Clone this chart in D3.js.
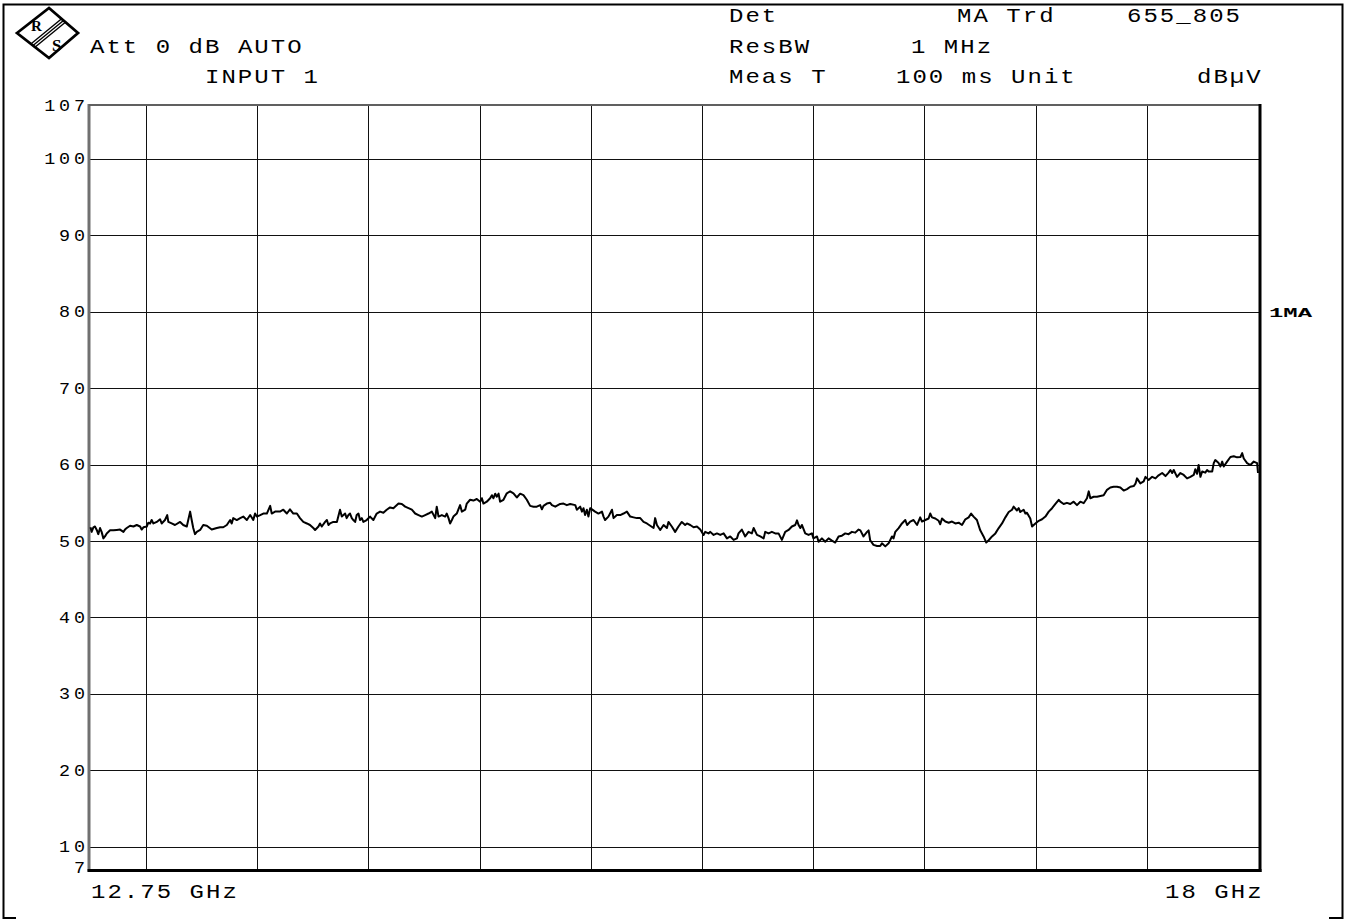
<!DOCTYPE html>
<html>
<head>
<meta charset="utf-8">
<script src="https://cdn.jsdelivr.net/npm/d3@7/dist/d3.min.js"></script>
<style>
  html, body { margin: 0; padding: 0; background: #fff; }
  svg { display: block; }
  .hdr { font-family: "Liberation Mono", "DejaVu Sans Mono", monospace; font-size: 20px; letter-spacing: 1.7px; fill: #000; }
  .ytick text { font-family: "Liberation Mono", "DejaVu Sans Mono", monospace; font-size: 16px; letter-spacing: 3.4px; fill: #000; }
</style>
</head>
<body>
<svg id="chart" width="1351" height="919"></svg>
<script>
// Sweep settings
const startMHz = 12750;
const stopMHz = 18000;
const refTop = 107;
const refBottom = 7;

// Grid divisions
const gridFreqs = [13000, 13500, 14000, 14500, 15000, 15500, 16000, 16500, 17000, 17500];
const gridLevels = [10, 20, 30, 40, 50, 60, 70, 80, 90, 100];
const yTickLabels = [107, 100, 90, 80, 70, 60, 50, 40, 30, 20, 10, 7];

// Trace 1 (MA) — frequency in MHz, level in dBµV
const freqMHz = [
  12750,12755,12763,12770,12778,12785,12793,12800,12808,12815,12823,12838,12853,12868,12883,12898,12905,12913,12928,12943,
  12958,12973,12980,12988,13003,13010,13018,13025,13033,13048,13063,13070,13085,13095,13100,13115,13130,13153,13167,13183,
  13198,13205,13212,13220,13228,13243,13257,13273,13295,13318,13333,13347,13363,13378,13385,13392,13408,13423,13437,13453,
  13468,13482,13490,13498,13513,13527,13543,13558,13565,13580,13602,13617,13633,13647,13662,13678,13692,13707,13723,13737,
  13752,13760,13775,13782,13790,13805,13813,13820,13827,13842,13858,13872,13880,13895,13902,13910,13917,13925,13932,13940,
  13947,13955,13962,13970,13977,13992,14007,14022,14037,14052,14067,14082,14097,14112,14135,14150,14165,14180,14195,14210,
  14225,14240,14255,14270,14285,14300,14307,14315,14330,14345,14352,14360,14367,14375,14382,14397,14412,14420,14435,14442,
  14457,14472,14487,
  14502,14510,14517,14532,14547,14555,14562,14570,14577,14585,14592,14607,14622,14637,14652,14667,14682,14697,14712,14727,
  14742,14757,14772,14780,14787,14802,14817,14825,14840,14862,14877,14892,14907,14930,14937,14952,14960,14967,14974,14982,
  14989,14997,15005,15019,15034,15050,15057,15064,15079,15095,15102,15117,15132,15147,15162,15177,15192,15207,15222,15237,
  15252,15267,15282,15289,15297,15312,15327,15342,15349,15364,15379,15394,15409,15424,15432,15447,15462,15477,15492,15507,
  15514,15529,15537,15552,15567,15582,15597,15612,15627,15642,15657,15664,15679,15694,15709,15724,15732,15747,15762,15777,
  15784,15799,15814,15829,15844,15859,15874,15889,15904,15919,15927,15934,15942,15949,15964,15979,15994,16001,16017,16024,
  16039,16054,16069,16084,16099,16114,16129,16144,16159,16174,16189,16204,
  16212,16226,16242,16249,16256,16271,16287,16301,16309,16324,16339,16354,16361,16369,16384,16399,16414,16422,16436,16451,
  16467,16481,16489,16504,16519,16526,16534,16549,16564,16571,16579,16594,16609,16624,16639,16654,16669,16684,16699,16710,
  16721,16736,16751,16766,16778,16789,16804,16819,16834,16849,16864,16879,16894,16901,16916,16924,16931,16946,16954,16961,
  16976,16984,16999,17014,17029,17044,17059,17074,17089,17104,17111,17126,17141,17156,17171,17186,17201,17216,17231,17239,
  17246,17261,17276,17291,17306,17321,17336,17351,17366,17381,17396,17411,17426,17441,17449,17456,17471,17486,17494,17508,
  17524,17539,17553,17569,17584,17598,17606,17614,17621,17636,17651,17666,17681,17696,17711,17718,17726,17733,17741,17749,
  17763,17771,17778,17794,17801,17808,17823,17831,17839,17846,17861,17876,17891,17906,17921,17929,17936,17951,17966,17981,
  17996,18000
];
const levelDb = [
  51.8,51.2,51.8,51.9,51.45,50.9,51.7,51.2,50.35,50.6,51.0,51.4,51.4,51.45,51.5,51.2,51.5,51.7,52.0,51.9,
  52.1,51.9,51.5,51.8,51.9,52.4,52.3,52.75,52.3,52.5,52.85,52.3,52.75,53.4,52.5,52.3,52.1,52.5,52.1,51.9,
  53.85,52.75,51.7,50.9,51.2,51.45,52.1,52.0,51.5,51.7,51.8,51.8,52.1,52.75,52.3,53.0,52.75,53.0,53.2,52.75,
  53.4,52.75,53.6,53.2,53.4,53.6,53.6,54.6,53.6,53.85,53.85,54.1,53.6,54.15,53.6,53.6,53.0,52.5,52.3,52.1,
  51.7,51.45,51.9,52.3,51.9,52.5,52.75,52.1,52.3,52.5,52.5,54.1,53.2,53.6,53.0,53.4,53.6,53.0,52.75,52.5,
  53.4,53.6,52.75,53.0,52.5,52.75,53.2,52.75,53.6,53.85,53.7,54.1,54.4,54.3,54.9,54.85,54.5,54.3,54.1,53.6,
  53.4,53.2,53.4,53.6,53.85,53.0,54.5,53.2,53.4,53.2,53.6,53.0,52.3,52.75,53.2,53.6,54.7,53.85,54.1,54.9,
  55.4,55.3,55.5,
  55.15,55.6,54.9,55.15,55.6,56.0,55.6,56.2,55.8,56.2,55.15,55.4,56.25,56.5,56.25,55.7,56.2,56.0,55.4,54.6,
  54.5,54.5,54.7,54.15,54.6,54.9,55.0,54.7,54.5,54.85,54.9,54.7,54.85,54.7,54.1,54.5,53.85,54.3,53.4,54.1,
  53.2,54.3,54.15,53.85,53.6,53.85,53.2,52.75,53.2,54.1,53.0,53.4,53.4,53.6,53.85,53.2,53.1,53.0,53.0,52.5,
  52.3,52.0,51.7,53.0,52.1,51.45,52.1,51.7,52.5,51.9,51.2,51.9,52.5,52.1,52.3,52.1,51.8,51.9,51.5,50.8,
  51.2,51.0,51.2,50.8,51.0,50.8,51.0,50.35,50.6,50.15,50.35,51.0,51.5,50.6,51.2,51.0,51.7,50.8,50.6,50.35,
  51.2,51.0,51.2,51.0,51.0,50.15,51.2,51.45,51.9,52.1,52.7,52.1,51.7,52.1,51.0,50.8,51.0,50.35,50.6,49.9,
  50.35,49.9,50.35,50.05,49.8,50.6,50.7,51.0,50.9,51.2,51.1,51.5,
  51.4,50.6,51.2,51.4,50.1,49.5,49.35,49.35,49.7,49.3,49.7,50.6,50.35,51.2,51.7,52.3,52.75,52.1,52.55,52.75,
  52.1,53.1,52.55,52.75,52.95,53.6,53.1,52.95,52.65,52.2,52.95,52.55,52.4,52.55,52.3,52.4,52.1,52.85,53.1,53.6,
  53.2,52.75,51.4,50.6,49.8,50.1,50.6,51.0,51.7,52.3,53.1,53.8,54.1,54.5,54.0,54.3,53.8,54.1,53.6,53.7,
  52.95,51.9,52.3,52.65,52.85,53.2,53.85,54.3,54.85,55.4,55.15,54.85,55.0,54.85,55.15,54.7,55.15,54.95,55.6,56.5,
  55.6,55.8,55.8,55.9,56.0,56.7,57.0,57.1,57.1,57.0,56.6,56.8,57.1,57.2,57.5,58.2,57.55,57.8,58.4,58.0,
  58.4,58.2,58.6,58.9,58.5,58.95,59.3,58.9,59.3,58.4,58.9,58.65,58.2,58.4,58.65,59.4,58.8,59.95,58.4,59.1,
  58.95,59.3,59.1,59.1,60.2,60.6,60.2,59.75,60.4,59.75,60.4,61.0,61.1,60.95,61.0,61.5,60.8,60.2,59.95,60.4,
  60.2,58.9
];

// Instrument settings shown in the header
const headerLines = [
  { text: "Att 0 dB AUTO", x: 90, y: 53 },
  { text: "INPUT 1", x: 205, y: 83 },
  { text: "Det", x: 729, y: 22 },
  { text: "MA Trd", x: 957, y: 22 },
  { text: "655_805", x: 1127, y: 22 },
  { text: "ResBW", x: 729, y: 53 },
  { text: "1 MHz", x: 911, y: 53 },
  { text: "Meas T", x: 729, y: 83 },
  { text: "100 ms Unit", x: 896, y: 83 },
  { text: "dB\u00b5V", x: 1197, y: 83 }
];

const trace = freqMHz.map((f, i) => ({ f, v: levelDb[i] }));

const svg = d3.select("#chart");

// Screen frame, open along the bottom edge
svg.append("path")
  .attr("d", "M16,918 H3.5 V4.5 H1342.5 V918 H1329")
  .attr("fill", "none")
  .attr("stroke", "#000")
  .attr("stroke-width", 2);

// Rohde & Schwarz logo
const logo = svg.append("g");
logo.append("path")
  .attr("d", "M17,33 L49,8 L78,33 L49,58 Z")
  .attr("fill", "#fff")
  .attr("stroke", "#000")
  .attr("stroke-width", 2.8)
  .attr("stroke-linejoin", "miter");
[-2.6, 0, 2.6].forEach(o => {
  logo.append("line")
    .attr("x1", 63.5 + o * 0.61).attr("y1", 20.5 + o * 0.78)
    .attr("x2", 33 + o * 0.61).attr("y2", 45.5 + o * 0.78)
    .attr("stroke", "#000").attr("stroke-width", 1.4);
});
logo.append("text").attr("x", 31).attr("y", 31).text("R")
  .attr("font-family", "Liberation Serif, serif").attr("font-weight", "bold").attr("font-size", 15);
logo.append("text").attr("x", 52).attr("y", 51).text("S")
  .attr("font-family", "Liberation Serif, serif").attr("font-weight", "bold").attr("font-size", 17);

// Text helper: monospace glyphs stretched a little wider than the stock font
const placeText = (sel, d) => sel
  .attr("class", "hdr")
  .attr("transform", `translate(${d.x},${d.y}) scale(1.2,1)`)
  .text(d.text);

svg.append("g").selectAll("text")
  .data(headerLines)
  .join("text")
  .each(function (d) { placeText(d3.select(this), d); });

// Scales
const x = d3.scaleLinear().domain([startMHz, stopMHz]).range([90.5, 1258]);
const y = d3.scaleLinear().domain([refBottom, refTop]).range([869.6, 105.5]);

const plotLeft = 89, plotRight = 1260, plotTop = 105, plotBottom = 870.5;

// Vertical grid
const vGrid = svg.append("g")
  .attr("transform", `translate(0,${plotBottom})`)
  .call(d3.axisBottom(x).tickValues(gridFreqs).tickSize(-(plotBottom - plotTop)).tickFormat(""));
vGrid.select(".domain").remove();
vGrid.selectAll(".tick line").attr("stroke", "#111").attr("stroke-width", 1).attr("shape-rendering", "crispEdges");

// Horizontal grid
const hGrid = svg.append("g")
  .attr("transform", `translate(${plotLeft},0)`)
  .call(d3.axisRight(y).tickValues(gridLevels).tickSize(plotRight - plotLeft).tickFormat(""));
hGrid.select(".domain").remove();
hGrid.selectAll(".tick line").attr("stroke", "#111").attr("stroke-width", 1).attr("shape-rendering", "crispEdges");

// Level labels on the left
const yAxis = svg.append("g")
  .attr("class", "ytick")
  .attr("transform", "translate(89,0)")
  .call(d3.axisLeft(y).tickValues(yTickLabels).tickSize(0).tickPadding(0).tickFormat(d3.format("d")));
yAxis.select(".domain").remove();
yAxis.selectAll(".tick text")
  .attr("dy", null)
  .attr("x", 0)
  .attr("y", d => (d === refBottom ? 3 : 5))
  .attr("transform", "scale(1.15,1)");

// Plot frame: shaded left/top, heavy right/bottom
svg.append("line").attr("x1", plotLeft).attr("x2", plotLeft).attr("y1", plotTop - 1).attr("y2", plotBottom + 1)
  .attr("stroke", "#707070").attr("stroke-width", 3);
svg.append("line").attr("x1", plotLeft).attr("x2", plotRight).attr("y1", plotTop).attr("y2", plotTop)
  .attr("stroke", "#606060").attr("stroke-width", 2.2);
svg.append("line").attr("x1", plotRight).attr("x2", plotRight).attr("y1", plotTop - 1).attr("y2", plotBottom + 1.5)
  .attr("stroke", "#000").attr("stroke-width", 3);
svg.append("line").attr("x1", plotLeft - 1.5).attr("x2", plotRight + 1.5).attr("y1", plotBottom).attr("y2", plotBottom)
  .attr("stroke", "#000").attr("stroke-width", 3);

// Trace
svg.append("path")
  .datum(trace)
  .attr("d", d3.line().x(d => x(d.f)).y(d => y(d.v)))
  .attr("fill", "none")
  .attr("stroke", "#000")
  .attr("stroke-width", 2)
  .attr("stroke-linejoin", "round");

// Trace marker label at the right edge
svg.append("text")
  .attr("x", 1269)
  .attr("y", y(80) + 5)
  .attr("font-family", "Liberation Mono, monospace")
  .attr("font-weight", "bold")
  .attr("font-size", 12)
  .attr("textLength", 43)
  .attr("lengthAdjust", "spacingAndGlyphs")
  .text("1MA");

// Start / stop frequency
const fmtGHz = v => `${v / 1000} GHz`;
svg.append("text").each(function () { placeText(d3.select(this), { text: fmtGHz(x.domain()[0]), x: 91, y: 898 }); });
svg.append("text").each(function () { placeText(d3.select(this), { text: fmtGHz(x.domain()[1]), x: 1165, y: 898 }); });
</script>
</body>
</html>
